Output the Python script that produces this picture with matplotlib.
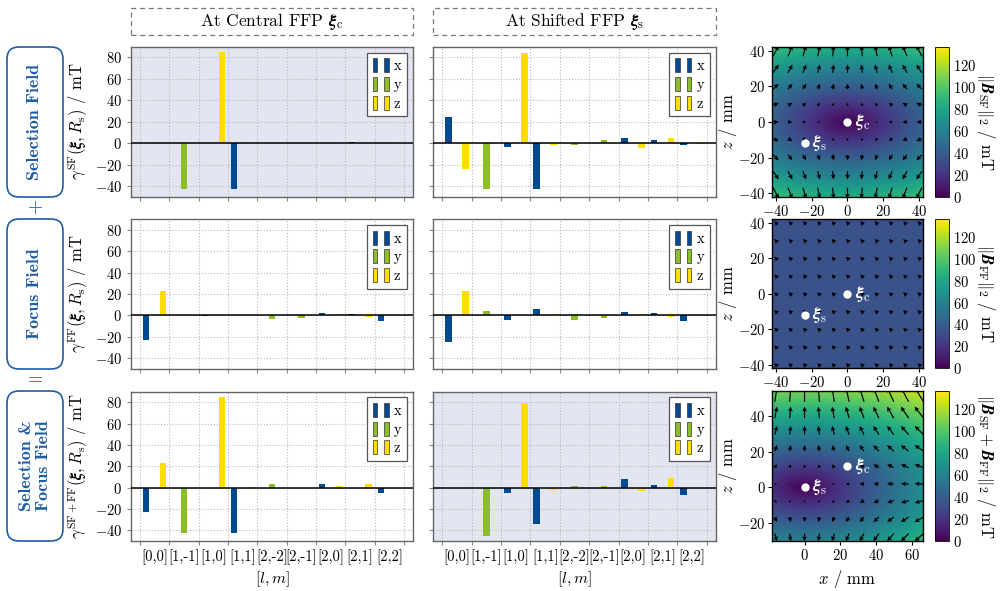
import numpy as np
import matplotlib
matplotlib.use("Agg")
import matplotlib.pyplot as plt
from matplotlib.patches import Patch, FancyBboxPatch, Rectangle
from matplotlib.legend_handler import HandlerTuple

plt.rcParams['font.family'] = 'serif'
plt.rcParams['font.serif'] = ['cmr10', 'DejaVu Serif']
plt.rcParams['mathtext.fontset'] = 'cm'
plt.rcParams['axes.formatter.use_mathtext'] = True
plt.rcParams['font.size'] = 10

# harmonic coefficients [l,m]
labels = ['[0,0]', '[1,-1]', '[1,0]', '[1,1]', '[2,-2]', '[2,-1]', '[2,0]', '[2,1]', '[2,2]']

# selection field, central FFP
sf_c_x = [0, 0, 0, -42.5, 0, 0, 0, 0.6, 0]
sf_c_y = [0, -42.5, 0, 0, 0, 0, 0, 0, 0]
sf_c_z = [0, 0, 85, 0, 0, 0, 0, 0, 0]
# selection field, shifted FFP
sf_s_x = [24.5, 0, -3.5, -42.5, 0, 0, 4.5, 3, -1.5]
sf_s_y = [0, -43, 0, 0, -1.5, 2.5, 0, 0, 0]
sf_s_z = [-24, 0, 84, -1.5, 0, -0.5, -5, 5, -0.5]
# focus field, central FFP
ff_c_x = [-23, 0, -0.3, 0, 0, 0, 2.5, 1.5, -5.5]
ff_c_y = [0, 0, 0, 0, -3.5, -2, 0, 0, 0]
ff_c_z = [23, 0, 0, 0, 0, 0, 1, -1.5, 0]
# focus field, shifted FFP
ff_s_x = [-24.5, 0, -4, 6, 0, 0, 3, 2, -5.5]
ff_s_y = [0, 4.5, 0, 0, -4, -2, 0, 0, 0]
ff_s_z = [23, 0, 0.3, 1, 0, 0, 1, -1.5, 0]
# selection + focus field, central FFP
tot_c_x = [-23, 0, 0, -42.5, 0, 0, 3, 0, -5.5]
tot_c_y = [0, -42.5, 0, 0, 3.5, -0.5, 0, 0, 0]
tot_c_z = [23, 0, 85, 1, 0, 0, 1.2, 3.4, 0]
# selection + focus field, shifted FFP
tot_s_x = [0, 0, -4.7, -34, 0, 0, 7.8, 2.8, -6.8]
tot_s_y = [0, -45.5, 0, 0, 1.9, 1.9, 0, 0, 0]
tot_s_z = [0, 0, 79.5, -2.2, 0, 0, -3.4, 8.7, 0]

# field model for the maps (mT, mm)
grad = 1.0                    # selection field gradient in x, 2*grad in z
ff_offset = (-24.0, 24.0)     # homogeneous focus field (Bx, Bz)
xi_c = (0.0, 0.0)
xi_s = (-24.0, -12.0)
vmax = 136

c_x, c_y, c_z = '#004a93', '#8dbe27', '#ffdd00'
blue_txt = '#1f5ca6'
lav = '#e3e5f1'

W, H = 1003, 591
fig = plt.figure(figsize=(W / 100, H / 100), dpi=100)


def rect(x0, y0, x1, y1):
    return [x0 / W, 1 - y1 / H, (x1 - x0) / W, (y1 - y0) / H]


rows_y = [(46.7, 196.7), (219, 369), (391.5, 541)]
cols_x = [(131, 413), (433.3, 715.7)]

bar_data = [
    [(sf_c_x, sf_c_y, sf_c_z), (sf_s_x, sf_s_y, sf_s_z)],
    [(ff_c_x, ff_c_y, ff_c_z), (ff_s_x, ff_s_y, ff_s_z)],
    [(tot_c_x, tot_c_y, tot_c_z), (tot_s_x, tot_s_y, tot_s_z)],
]
ylabels = [r'$\gamma^{\mathrm{SF}}(\boldsymbol{\xi}, R_{\mathrm{s}})$ / mT',
           r'$\gamma^{\mathrm{FF}}(\boldsymbol{\xi}, R_{\mathrm{s}})$ / mT',
           r'$\gamma^{\mathrm{SF+FF}}(\boldsymbol{\xi}, R_{\mathrm{s}})$ / mT']
shaded = {(0, 0), (2, 1)}

pos = np.arange(len(labels))
off, bw = 0.29, 0.22
for r in range(3):
    for c in range(2):
        ax = fig.add_axes(rect(cols_x[c][0], rows_y[r][0], cols_x[c][1], rows_y[r][1]))
        ax.set_facecolor(lav if (r, c) in shaded else 'white')
        vx, vy, vz = bar_data[r][c]
        ax.bar(pos - off, vx, bw, color=c_x, zorder=3)
        ax.bar(pos, vy, bw, color=c_y, zorder=3)
        ax.bar(pos + off, vz, bw, color=c_z, zorder=3)
        ax.axhline(0, color='k', lw=1.1, zorder=4)
        ax.set_xlim(-0.81, 8.81)
        ax.set_ylim(-50, 90)
        ax.set_yticks([-40, -20, 0, 20, 40, 60, 80])
        ax.set_xticks(np.arange(-0.5, 9, 1))
        ax.set_xticks(pos, minor=True)
        ax.tick_params(axis='x', which='major', labelbottom=False, length=3, color='#888888')
        ax.tick_params(axis='x', which='minor', length=0, labelsize=10.5, pad=6)
        ax.tick_params(axis='y', length=3, color='#888888', labelsize=10.5)
        if r == 2:
            ax.set_xticklabels(labels, minor=True)
        if c == 0:
            ax.set_ylabel(ylabels[r], fontsize=12, labelpad=3)
        else:
            ax.set_yticklabels([])
        ax.grid(True, ls=':', color='#bbbbbb', lw=0.8, zorder=0)
        for s in ax.spines.values():
            s.set_color('#666666')
            s.set_linewidth(1.0)
        handles = [(Patch(fc=col, ec='#333333', lw=0.5), Patch(fc=col, ec='#333333', lw=0.5))
                   for col in (c_x, c_y, c_z)]
        leg = ax.legend(handles, ['x', 'y', 'z'], loc='upper right',
                        handler_map={tuple: HandlerTuple(ndivide=None, pad=0.5)},
                        handlelength=1.1, handleheight=1.1, handletextpad=0.35,
                        labelspacing=0.25, borderpad=0.4, fontsize=10.5, fancybox=False,
                        edgecolor='#555555', framealpha=1, borderaxespad=0.4)
        leg.get_frame().set_linewidth(0.9)

# x axis label under the bottom row
for x0, x1 in cols_x:
    fig.text((x0 + x1) / 2 / W, 1 - 579 / H, r'$[l, m]$', ha='center', va='center', fontsize=11.5)

# column headers
for (x0, x1), txt in zip(cols_x, [r'At Central FFP $\boldsymbol{\xi}_{\mathrm{c}}$',
                                  r'At Shifted FFP $\boldsymbol{\xi}_{\mathrm{s}}$']):
    fig.patches.append(Rectangle((x0 / W, 1 - 35 / H), (x1 - x0) / W, 27 / H,
                                 transform=fig.transFigure, fill=False, ec='#777777',
                                 ls=(0, (4, 3)), lw=0.9))
    fig.text((x0 + x1) / 2 / W, 1 - 21.5 / H, txt, ha='center', va='center', fontsize=12.5)

# row boxes
row_txt = ['Selection Field', 'Focus Field', 'Selection &\nFocus Field']
row_box = [(47, 197), (219, 369), (391, 541)]
for (y0, y1), txt in zip(row_box, row_txt):
    fig.patches.append(FancyBboxPatch((7 / W, 1 - y1 / H), 56 / W, (y1 - y0) / H,
                                      boxstyle='round,pad=0,rounding_size=0.012',
                                      transform=fig.transFigure, fill=False,
                                      ec=blue_txt, lw=1.2, mutation_aspect=W / H))
    fig.text(35 / W, 1 - (y0 + y1) / 2 / H, txt, rotation=90, ha='center', va='center',
             color=blue_txt, fontsize=13, family='cmb10', linespacing=1.1)
fig.text(35 / W, 1 - 208 / H, '+', ha='center', va='center', color=blue_txt, fontsize=14)
fig.text(35 / W, 1 - 380 / H, '=', ha='center', va='center', color=blue_txt, fontsize=14)

# field maps
xs = np.linspace(-42, 42, 300)
X, Z = np.meshgrid(xs, xs)
qx = np.linspace(-40, 40, 11)
qz = np.linspace(-40, 40, 9)
QX, QZ = np.meshgrid(qx, qz)


def sf(x, z):
    return -grad * x, 2 * grad * z


def ff(x, z):
    return ff_offset[0] + 0 * x, ff_offset[1] + 0 * z


def tot(x, z):
    a, b = sf(x, z)
    return a + ff_offset[0], b + ff_offset[1]


maps = [sf, ff, tot]
cb_labels = [r'$\|\boldsymbol{B}_{\mathrm{SF}}\|_2$ / mT',
             r'$\|\boldsymbol{B}_{\mathrm{FF}}\|_2$ / mT',
             r'$\|\boldsymbol{B}_{\mathrm{SF}} + \boldsymbol{B}_{\mathrm{FF}}\|_2$ / mT']
map_y = [(47.3, 196.7), (219.3, 368.3), (391, 541)]
for r in range(3):
    shift = (-xi_s[0], -xi_s[1]) if r == 2 else (0.0, 0.0)
    ax = fig.add_axes(rect(772.3, map_y[r][0], 922.7, map_y[r][1]))
    bx, bz = maps[r](X, Z)
    im = ax.imshow(np.hypot(bx, bz), extent=[-42 + shift[0], 42 + shift[0], -42 + shift[1], 42 + shift[1]],
                   origin='lower', cmap='viridis', vmin=0, vmax=vmax, aspect='auto',
                   interpolation='bilinear')
    ux, uz = maps[r](QX, QZ)
    ax.quiver(QX + shift[0], QZ + shift[1], ux, uz, angles='xy', scale_units='xy', scale=13,
              pivot='mid', width=0.008, headwidth=4, headlength=4, headaxislength=3.5,
              color='k', zorder=3)
    for p, name in [(xi_c, 'c'), (xi_s, 's')]:
        px, pz = p[0] + shift[0], p[1] + shift[1]
        ax.plot(px, pz, 'o', color='white', ms=5, zorder=4)
        ax.text(px + 4, pz, r'$\boldsymbol{\xi}_{\mathrm{%s}}$' % name, color='white',
                fontsize=13, va='center', ha='left', zorder=4)
    ax.set_xlim(-42 + shift[0], 42 + shift[0])
    ax.set_ylim(-42 + shift[1], 42 + shift[1])
    if r == 2:
        ax.set_xticks([0, 20, 40, 60])
        ax.set_yticks([-20, 0, 20, 40])
        ax.set_xlabel(r'$x$ / mm', fontsize=12)
    else:
        ax.set_xticks([-40, -20, 0, 20, 40])
        ax.set_yticks([-40, -20, 0, 20, 40])
    ax.set_ylabel(r'$z$ / mm', fontsize=12, labelpad=-1)
    ax.tick_params(length=3, labelsize=10.5, pad=2)
    for s in ax.spines.values():
        s.set_linewidth(1.0)
    cax = fig.add_axes(rect(935, map_y[r][0], 949, map_y[r][1]))
    cb = fig.colorbar(im, cax=cax)
    cb.set_ticks([0, 20, 40, 60, 80, 100, 120])
    cb.outline.set_linewidth(0.6)
    cax.tick_params(length=0, labelsize=10.5, pad=3)
    cax.set_ylabel(cb_labels[r], rotation=270, labelpad=15, fontsize=12)

fig.savefig('out.png', dpi=100)
